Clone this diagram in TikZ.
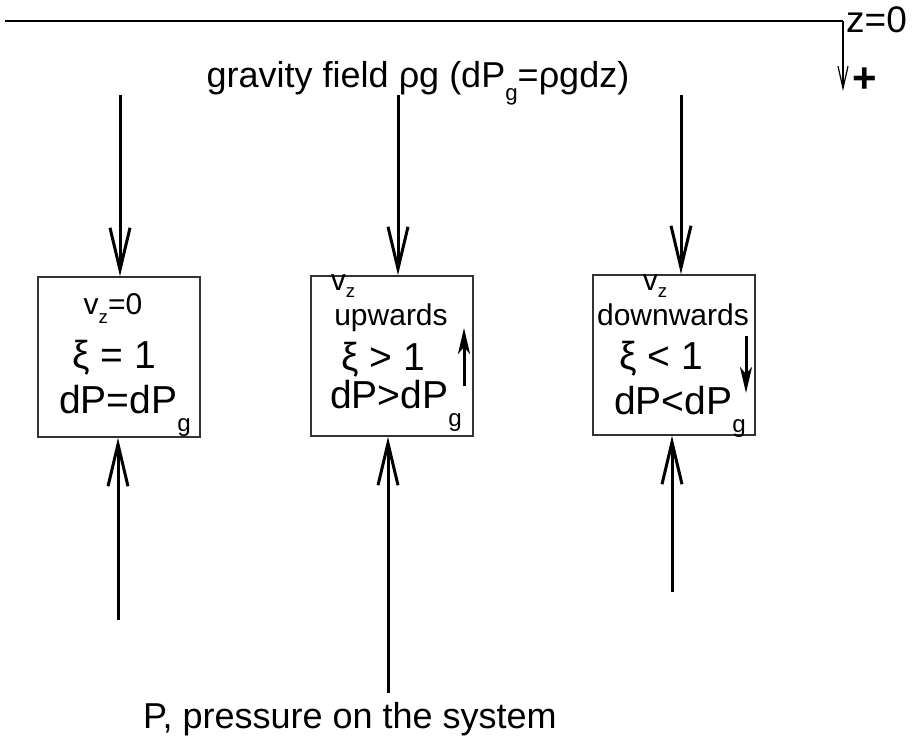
\documentclass[tikz,border=0pt]{standalone}
\usepackage{fontspec}
\setmainfont{Liberation Sans}
\usetikzlibrary{arrows.meta,calc}
\newcommand{\lowsub}[2][0.9ex]{\raisebox{-#1}{\scalebox{0.62}{#2}}}

\tikzset{
  sysbox/.style={draw=black!80, line width=1.5pt, minimum width=162pt, minimum height=160pt, inner sep=0pt},
  force/.style={line width=3pt, -{Straight Barb[length=42pt,width=20pt,line width=3pt]}},
  motion/.style={line width=3pt, -{Stealth[length=26pt,width=12pt,inset=7pt]}},
  bigtxt/.style={font=\fontsize{39}{43}\selectfont, inner sep=0pt, anchor=base},
  smalltxt/.style={font=\fontsize{30}{33}\selectfont, inner sep=0pt, anchor=base},
}

\begin{document}
\begin{tikzpicture}[x=1pt,y=-1pt]
  \useasboundingbox (0,0) rectangle (913,740);

  % depth axis
  \coordinate (lineL) at (5,21);
  \coordinate (zero)  at (843,21);
  \coordinate (down)  at (843,91);
  \draw[line width=1.2pt] (lineL) -- (zero);
  \draw[line width=1.2pt, -{Straight Barb[length=22pt,width=10pt,line width=1.2pt]}] (zero) -- (down);
  \node[font=\fontsize{37}{40}\selectfont, inner sep=0pt, anchor=base west] (zlab) at (846,32) {z=0};
  \node[font=\fontsize{42}{46}\selectfont\bfseries, inner sep=0pt] (plus) at (865,80) {+};

  \node[font=\fontsize{36}{40}\selectfont, inner sep=0pt, anchor=base] (grav) at (418,87)
    {gravity field ρg (dP\lowsub[0.7ex]{g}=ρgdz)};
  \node[font=\fontsize{36}{40}\selectfont, inner sep=0pt, anchor=base] (press) at (350,728)
    {P, pressure on the system};

  % the three systems
  \node[sysbox] (b1) at (119,357) {};
  \node[sysbox] (b2) at (392,356) {};
  \node[sysbox] (b3) at (674,355) {};

  \node[smalltxt] (b1v)  at (113,314) {v\lowsub[0.6ex]{z}=0};
  \node[bigtxt]   (b1xi) at (114,368) {ξ = 1};
  \node[bigtxt]   (b1dp) at (125,413) {dP=dP\lowsub{g}};

  \node[smalltxt] (b2v)  at (343,290) {v\lowsub[0.45ex]{z}};
  \node[smalltxt] (b2d)  at (391,325) {upwards};
  \node[bigtxt]   (b2xi) at (383,370) {ξ > 1};
  \node[bigtxt]   (b2dp) at (396,408) {dP>dP\lowsub{g}};

  \node[smalltxt] (b3v)  at (655,290) {v\lowsub[0.45ex]{z}};
  \node[smalltxt] (b3d)  at (673,325) {downwards};
  \node[bigtxt]   (b3xi) at (661,369) {ξ < 1};
  \node[bigtxt]   (b3dp) at (680,414) {dP<dP\lowsub{g}};

  \coordinate (up2a) at (464,386);
  \coordinate (up2b) at (464,328);
  \draw[motion] (up2a) -- (up2b);
  \coordinate (dn3a) at (746,336);
  \coordinate (dn3b) at (746,393);
  \draw[motion] (dn3a) -- (dn3b);

  % gravity from above
  \coordinate (g1) at (120,95);
  \coordinate (g2) at (398,95);
  \coordinate (g3) at (681,95);
  \draw[force] (g1) -- (g1 |- b1.north);
  \draw[force] (g2) -- (g2 |- b2.north);
  \draw[force] (g3) -- (g3 |- b3.north);

  % pressure from below
  \coordinate (p1) at (118,620);
  \coordinate (p2) at (388,693);
  \coordinate (p3) at (672,592);
  \draw[force] (p1) -- (p1 |- b1.south);
  \draw[force] (p2) -- (p2 |- b2.south);
  \draw[force] (p3) -- (p3 |- b3.south);
\end{tikzpicture}
\end{document}
